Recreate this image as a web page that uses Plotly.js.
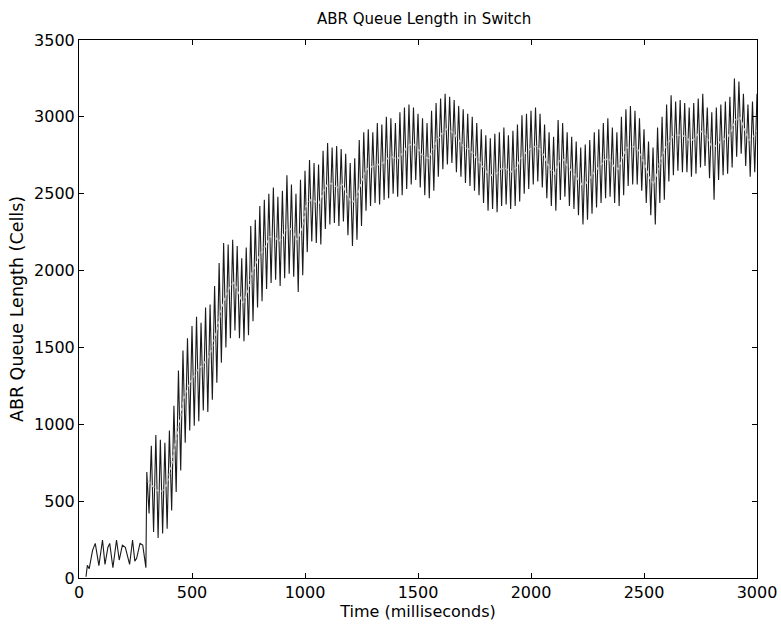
<!DOCTYPE html>
<html>
<head>
<meta charset="utf-8">
<script src="https://cdn.plot.ly/plotly-3.0.1.min.js"></script>
<style>html,body{margin:0;padding:0;background:#fff;}#chart{width:781px;height:630px;}</style>
</head>
<body>
<div id="chart"></div>
<script>
// Early phase (before 300 ms): time (ms) and queue length (cells)
var earlyTime  = [31, 37, 45, 60, 72, 88, 104, 115, 128, 136, 150, 166, 178, 192, 205, 224, 237, 247, 255, 270, 282, 296];
var earlyQueue = [8, 83, 60, 180, 225, 80, 247, 89, 200, 225, 67, 247, 117, 214, 200, 89, 247, 110, 128, 225, 214, 67];

// Oscillating phase: one cycle every 20 ms starting at 300 ms
var cycleStart = 300;
var cyclePeriod = 20;
var cycleHigh = [
  690, 860, 930, 900, 880, 960, 1120, 1350, 1480, 1560,
  1640, 1700, 1660, 1760, 1780, 1900, 2050, 2180, 2170, 2200,
  2160, 2080, 2150, 2290, 2330, 2420, 2460, 2500, 2540, 2480,
  2520, 2620, 2560, 2500, 2590, 2650, 2720, 2700, 2690, 2780,
  2830, 2800, 2810, 2790, 2760, 2700, 2730, 2850, 2900, 2920,
  2900, 2960, 2950, 3000, 2990, 2960, 3030, 3060, 3080, 3060,
  3020, 2990, 2960, 3040, 3090, 3120, 3150, 3130, 3110, 3070,
  3050, 3020, 3000, 2960, 2920, 2880, 2860, 2890, 2900, 2930,
  2880, 2910, 2950, 3010, 3020, 3040, 3060, 3020, 2950, 2900,
  2870, 2980, 2960, 2900, 2870, 2840, 2800, 2820, 2850, 2900,
  2920, 2960, 2990, 2930, 2900, 3000, 3050, 3070, 3040, 2990,
  2920, 2840, 2800, 2930, 3000, 3080, 3140, 3100, 3110, 3090,
  3060, 3090, 3120, 3150, 3060, 3030, 3060, 3080, 3100, 3130,
  3250, 3230, 3150, 3080, 3100, 3150
];
var cycleLow = [
  420, 300, 260, 290, 320, 440, 560, 700, 880, 960,
  990, 1020, 1090, 1080, 1160, 1270, 1400, 1500, 1560, 1610,
  1560, 1540, 1580, 1670, 1760, 1800, 1880, 1920, 1940, 1900,
  1950, 1980, 1960, 1860, 1970, 2120, 2190, 2180, 2170, 2270,
  2300, 2310, 2290, 2320, 2230, 2160, 2200, 2290, 2390, 2420,
  2440, 2430, 2460, 2470, 2500, 2480, 2490, 2530, 2560, 2590,
  2540, 2490, 2470, 2520, 2610, 2660, 2690, 2700, 2640, 2610,
  2570, 2550, 2520, 2490, 2440, 2390, 2400, 2380, 2420, 2430,
  2400, 2420, 2450, 2500, 2530, 2560, 2580, 2540, 2470, 2420,
  2390, 2460, 2480, 2420, 2400, 2360, 2300, 2330, 2370, 2410,
  2440, 2470, 2480, 2440, 2420, 2490, 2550, 2560, 2560, 2520,
  2440, 2360, 2300, 2440, 2460, 2580, 2620, 2650, 2640, 2640,
  2610, 2630, 2670, 2680, 2600, 2460, 2590, 2620, 2630, 2670,
  2740, 2760, 2680, 2610, 2640, 2690
];
// Running mean of the oscillation (light band through the middle)
var cycleMean = [
  630, 600, 570, 560, 600, 700, 860, 1000, 1180, 1260,
  1300, 1360, 1380, 1420, 1480, 1580, 1720, 1820, 1890, 1920,
  1860, 1790, 1850, 1980, 2060, 2110, 2160, 2220, 2220, 2190,
  2230, 2280, 2260, 2200, 2260, 2420, 2460, 2450, 2440, 2530,
  2570, 2560, 2540, 2560, 2500, 2440, 2460, 2560, 2650, 2670,
  2680, 2690, 2700, 2730, 2740, 2720, 2750, 2790, 2820, 2820,
  2780, 2740, 2730, 2780, 2850, 2890, 2920, 2910, 2880, 2840,
  2800, 2790, 2760, 2720, 2680, 2640, 2620, 2630, 2660, 2670,
  2640, 2650, 2700, 2750, 2780, 2800, 2810, 2780, 2720, 2660,
  2630, 2720, 2720, 2670, 2640, 2600, 2560, 2570, 2610, 2650,
  2680, 2720, 2730, 2680, 2660, 2740, 2800, 2810, 2800, 2760,
  2680, 2600, 2560, 2680, 2760, 2830, 2870, 2880, 2880, 2870,
  2840, 2860, 2900, 2910, 2840, 2800, 2820, 2850, 2860, 2900,
  2980, 3000, 2920, 2850, 2870, 2920
];

var xTicks = [0, 500, 1000, 1500, 2000, 2500, 3000];
var yTicks = [0, 500, 1000, 1500, 2000, 2500, 3000, 3500];

// Assemble the line: early points, then high/low per cycle
var lineX = earlyTime.slice();
var lineY = earlyQueue.slice();
var meanX = [];
for (var i = 0; i < cycleHigh.length; i++) {
  var t = cycleStart + i * cyclePeriod;
  lineX.push(t); lineY.push(cycleHigh[i]);
  lineX.push(t + cyclePeriod / 2); lineY.push(cycleLow[i]);
  meanX.push(t + cyclePeriod / 4);
}

var traces = [
  {x: lineX, y: lineY, type: 'scatter', mode: 'lines',
   line: {color: '#1a1a1a', width: 1.1}, hoverinfo: 'skip', showlegend: false},
  {x: meanX, y: cycleMean, type: 'scatter', mode: 'lines',
   line: {color: '#c8c8c8', width: 1.6, dash: 'dot'}, hoverinfo: 'skip', showlegend: false}
];

var FONT = 'DejaVu Sans, Liberation Sans, Arial, sans-serif';
var axisCommon = {
  showgrid: false, zeroline: false, showline: true, linecolor: '#000', linewidth: 1,
  mirror: 'ticks', ticks: 'inside', ticklen: 5, tickcolor: '#000', tickwidth: 1,
  tickfont: {family: FONT, size: 16, color: '#000'}
};

var layout = {
  width: 781, height: 630,
  margin: {l: 79, r: 24, t: 40, b: 52},
  paper_bgcolor: '#fff', plot_bgcolor: '#fff',
  font: {family: FONT, color: '#000', size: 16},
  title: {text: 'ABR Queue Length in Switch', x: 0.543, xanchor: 'center', y: 0.97, yanchor: 'middle',
          font: {family: FONT, size: 15, color: '#000'}},
  xaxis: Object.assign({}, axisCommon, {
    range: [0, 3000], tickvals: xTicks, ticktext: xTicks.map(String),
    title: {text: 'Time (milliseconds)', standoff: 2, font: {family: FONT, size: 16}}
  }),
  yaxis: Object.assign({}, axisCommon, {
    range: [0, 3500], tickvals: yTicks, ticktext: yTicks.map(String),
    title: {text: 'ABR Queue Length (Cells)', standoff: 5, font: {family: FONT, size: 17.5}}
  })
};

Plotly.newPlot('chart', traces, layout, {staticPlot: true, displayModeBar: false});
</script>
</body>
</html>
